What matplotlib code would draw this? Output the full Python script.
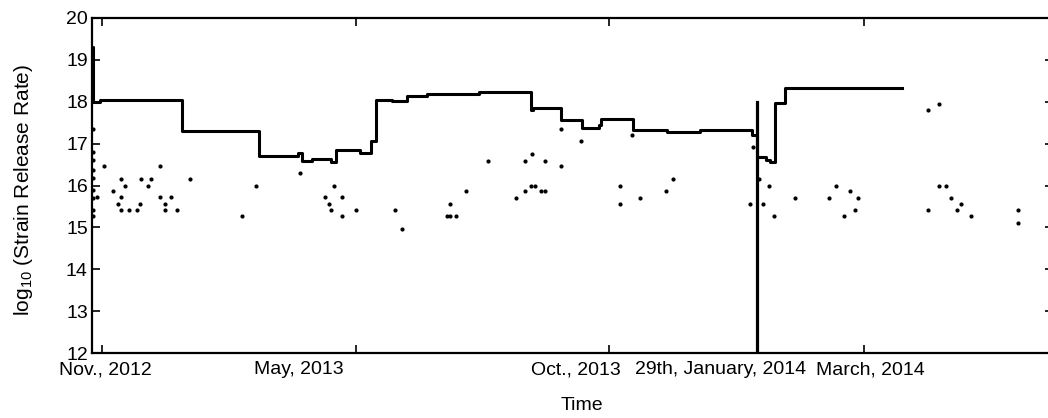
import matplotlib
matplotlib.use("Agg")
import matplotlib.pyplot as plt

plt.rcParams['font.family'] = ['Liberation Sans', 'DejaVu Sans']
plt.rcParams['mathtext.fontset'] = 'custom'
plt.rcParams['mathtext.rm'] = 'Liberation Sans'
plt.rcParams['mathtext.it'] = 'Liberation Sans:italic'

# step line: change points (event index) and log10 strain release rate after each change
step_t = [0, 1, 8, 90, 158, 167, 206, 210, 220, 239, 244, 268, 279, 284, 300, 315,
          335, 387, 439, 441, 469, 490, 507, 509, 541, 575, 608, 660, 665, 674, 678,
          683, 693, 810]
step_v = [19.3, 18.0, 18.05, 17.29, 17.31, 16.70, 16.78, 16.59, 16.63, 16.57, 16.84,
          16.78, 17.06, 18.04, 18.02, 18.14, 18.18, 18.23, 17.80, 17.84, 17.56, 17.37,
          17.45, 17.59, 17.33, 17.28, 17.32, 17.20, 16.69, 16.62, 16.57, 17.96, 18.32,
          18.32]

# single events
dot_t = [1, 1, 1, 1, 1, 1, 1, 1, 1,
         12, 68, 29, 33, 49, 56, 59, 98, 21, 29, 5, 26, 29, 37, 45, 48, 68, 73, 73,
         79, 85, 150, 164, 208, 233, 242, 237, 239, 250, 250,
         264, 303, 310, 358, 355, 358, 364, 374, 396, 424, 433, 433, 440, 439, 443,
         449, 453, 453, 469, 469, 489,
         540, 528, 528, 548, 574, 581, 661, 658, 671, 667, 677, 682, 703, 737, 744,
         758, 752,
         766, 763, 836, 847, 847, 854, 859, 869, 865, 879, 836, 926, 926]
dot_v = [17.36, 16.8, 16.6, 16.37, 16.17, 15.9, 15.7, 15.42, 15.26,
         16.47, 16.47, 16.15, 16.0, 16.15, 16.0, 16.15, 16.15, 15.88, 15.72, 15.72,
         15.56, 15.42, 15.42, 15.42, 15.56, 15.72, 15.56, 15.42, 15.72, 15.42, 15.26,
         16.0, 16.31, 15.72, 16.0, 15.56, 15.42, 15.72, 15.26,
         15.42, 15.42, 14.97, 15.56, 15.26, 15.26, 15.26, 15.88, 16.59, 15.71, 15.88,
         16.59, 16.76, 16.0, 16.0, 15.88, 15.88, 16.59, 17.35, 16.47, 17.06,
         17.2, 16.0, 15.56, 15.71, 15.88, 16.15, 16.91, 15.56, 15.56, 16.15, 16.0,
         15.26, 15.71, 15.71, 16.0, 15.88, 15.26,
         15.71, 15.42, 17.80, 17.95, 16.0, 16.0, 15.71, 15.56, 15.42, 15.26, 15.42,
         15.42, 15.1]

event_t = 665          # 29th January 2014
event_top = 18.0

tick_t = [10, 264, 517, 772]
label_t = [13.5, 207, 484, 628.5, 778]
labels = ['Nov., 2012', 'May, 2013', 'Oct., 2013', '29th, January, 2014', 'March, 2014']

fig = plt.figure(figsize=(10.48, 4.18), dpi=100)
ax = fig.add_axes([92 / 1048, 65 / 418, 961 / 1048, 335 / 418])

ax.plot(dot_t, dot_v, 'o', color='black', ms=3.0, mew=0)
ax.step(step_t, step_v, where='post', color='black', lw=2.2)
ax.plot([event_t, event_t], [12, event_top], color='black', lw=2.3)

ax.set_xlim(0, 961)
ax.set_ylim(12, 20)
ax.set_yticks(range(12, 21))

ax.set_xticks(tick_t)
ax.set_xticklabels([])
ax.set_xticks(label_t, minor=True)
ax.set_xticklabels(labels, minor=True, fontsize=14)
ax.tick_params(axis='x', which='minor', length=0, pad=6)
ax.tick_params(axis='both', which='major', direction='in', length=6, width=1.2,
               top=True, right=True, labelsize=14, pad=3)

for s in ax.spines.values():
    s.set_linewidth(1.6)

ax.set_xlabel('Time', fontsize=14)
ax.xaxis.set_label_coords(490 / 961, -0.13)
ax.set_ylabel(r'log$_{10}$ (Strain Release Rate)', fontsize=15)
ax.yaxis.set_label_coords(-0.059, 0.487)

fig.savefig('out.png', dpi=100)
